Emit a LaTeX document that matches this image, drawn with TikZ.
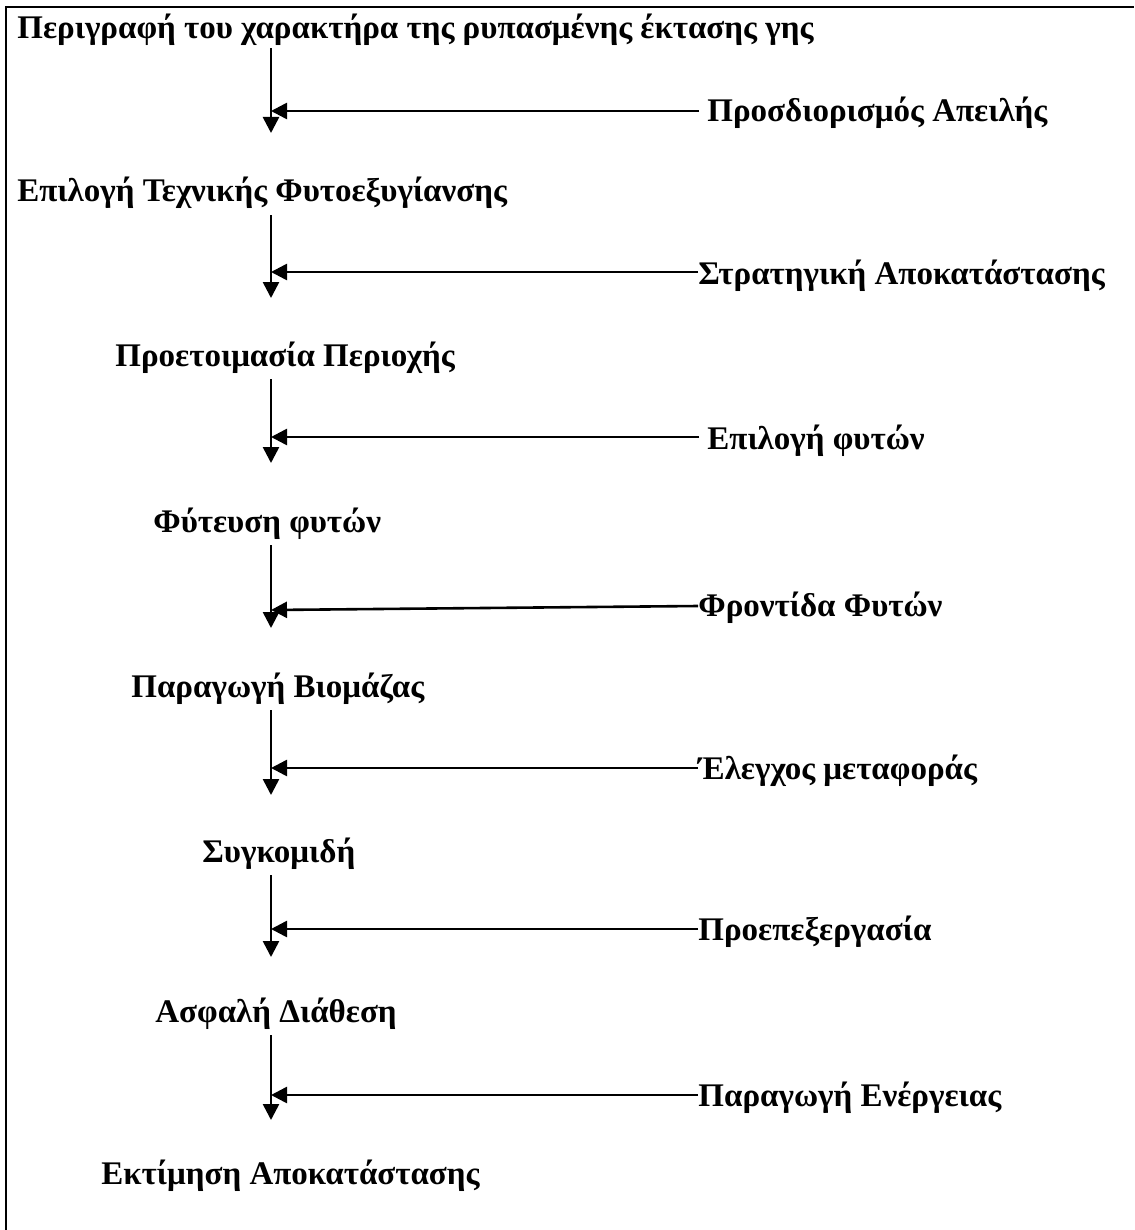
\documentclass[tikz,border=0pt]{standalone}
\usepackage{fontspec}
\setmainfont{Liberation Serif}
\usetikzlibrary{arrows.meta}
\tikzset{arrow/.style={line width=1.3pt,-{Triangle[length=8pt,width=8pt]}},
  stage/.style={anchor=base west,inner sep=0pt,font=\fontsize{16.5}{19}\selectfont\bfseries}}

\begin{document}
\begin{tikzpicture}[x=0.5pt,y=-0.5pt]
        \useasboundingbox (0,0) rectangle (1134,1230);
        %ramka
        \coordinate (fb) at (6,1230);
        \coordinate (fc) at (6,7);
        \coordinate (fr) at (1134,7);
        \draw[line width=0.9pt] (fb) -- (fc) -- (fr);
        %etapy
        \node[stage] (t1) at (17,39) {Περιγραφή του χαρακτήρα της ρυπασμένης έκτασης γης};
        \node[stage] (t2) at (17,202) {Επιλογή Τεχνικής Φυτοεξυγίανσης};
        \node[stage] (t3) at (115,366) {Προετοιμασία Περιοχής};
        \node[stage] (t4) at (153,532) {Φύτευση φυτών};
        \node[stage] (t5) at (131,697) {Παραγωγή Βιομάζας};
        \node[stage] (t6) at (202,862) {Συγκομιδή};
        \node[stage] (t7) at (155,1022) {Ασφαλή Διάθεση};
        \node[stage] (t8) at (101,1184) {Εκτίμηση Αποκατάστασης};
        %dzialania
        \node[stage] (r1) at (707,122) {Προσδιορισμός Απειλής};
        \node[stage] (r2) at (698,284) {Στρατηγική Αποκατάστασης};
        \node[stage] (r3) at (707,449) {Επιλογή φυτών};
        \node[stage] (r4) at (698,616) {Φροντίδα Φυτών};
        \node[stage] (r5) at (698,779) {Έλεγχος μεταφοράς};
        \node[stage] (r6) at (698,940) {Προεπεξεργασία};
        \node[stage] (r7) at (698,1106) {Παραγωγή Ενέργειας};
        %os
        \coordinate (v1) at (271,133);
        \coordinate (v2) at (271,298);
        \coordinate (v3) at (271,463);
        \coordinate (v4) at (271,628);
        \coordinate (v5) at (271,795);
        \coordinate (v6) at (271,957);
        \coordinate (v7) at (271,1120);
        \coordinate (h1) at (271,111);
        \coordinate (h2) at (271,272);
        \coordinate (h3) at (271,437);
        \coordinate (h4) at (271,610);
        \coordinate (h5) at (271,768);
        \coordinate (h6) at (271,929);
        \coordinate (h7) at (271,1095);
        %strzalki pionowe
        \draw[arrow] ([yshift=-1pt]t1.south -| v1) -- (v1);
        \draw[arrow] ([yshift=-3pt]t2.south -| v2) -- (v2);
        \draw[arrow] ([yshift=-3pt]t3.south -| v3) -- (v3);
        \draw[arrow] ([yshift=-3pt]t4.south -| v4) -- (v4);
        \draw[arrow] ([yshift=-3pt]t5.south -| v5) -- (v5);
        \draw[arrow] ([yshift=-3pt]t6.south -| v6) -- (v6);
        \draw[arrow] ([yshift=-3pt]t7.south -| v7) -- (v7);
        %strzalki poziome
        \draw[arrow] ([xshift=-4pt]r1.base west |- h1) -- (h1);
        \draw[arrow] (r2.base west |- h2) -- (h2);
        \draw[arrow] ([xshift=-4pt]r3.base west |- h3) -- (h3);
        \draw[arrow] ([yshift=2pt]r4.base west |- h4) -- (h4);
        \draw[arrow] (r5.base west |- h5) -- (h5);
        \draw[arrow] (r6.base west |- h6) -- (h6);
        \draw[arrow] (r7.base west |- h7) -- (h7);
\end{tikzpicture}
\end{document}
